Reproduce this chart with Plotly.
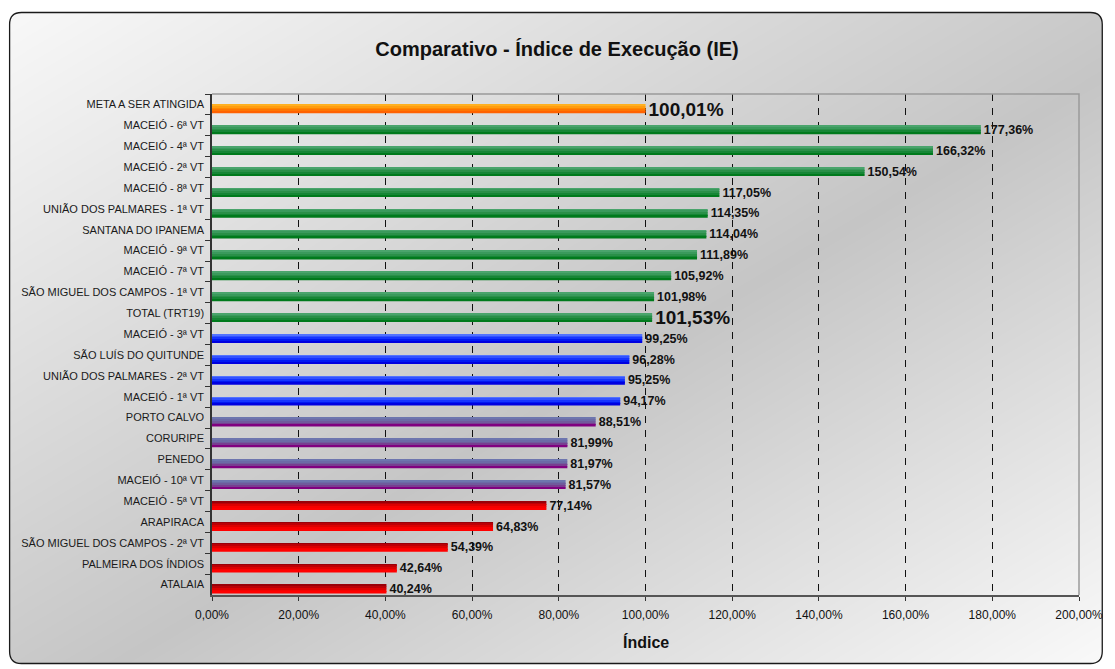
import base64, zlib, struct
import numpy as np
import plotly.graph_objects as go

# ---------------- data ----------------
categories = [
    "META A SER ATINGIDA", "MACEIÓ - 6ª VT", "MACEIÓ - 4ª VT", "MACEIÓ - 2ª VT",
    "MACEIÓ - 8ª VT", "UNIÃO DOS PALMARES - 1ª VT", "SANTANA DO IPANEMA",
    "MACEIÓ - 9ª VT", "MACEIÓ - 7ª VT", "SÃO MIGUEL DOS CAMPOS - 1ª VT",
    "TOTAL (TRT19)", "MACEIÓ - 3ª VT", "SÃO LUÍS DO QUITUNDE",
    "UNIÃO DOS PALMARES - 2ª VT", "MACEIÓ - 1ª VT", "PORTO CALVO", "CORURIPE",
    "PENEDO", "MACEIÓ - 10ª VT", "MACEIÓ - 5ª VT", "ARAPIRACA",
    "SÃO MIGUEL DOS CAMPOS - 2ª VT", "PALMEIRA DOS ÍNDIOS", "ATALAIA",
]
values = [
    100.01, 177.36, 166.32, 150.54, 117.05, 114.35, 114.04, 111.89, 105.92,
    101.98, 101.53, 99.25, 96.28, 95.25, 94.17, 88.51, 81.99, 81.97, 81.57,
    77.14, 64.83, 54.39, 42.64, 40.24,
]
groups = (["meta"] + ["green"] * 10 + ["blue"] * 4 + ["purple"] * 4 + ["red"] * 5)
highlight = ["META A SER ATINGIDA", "TOTAL (TRT19)"]
x_ticks = [0, 20, 40, 60, 80, 100, 120, 140, 160, 180, 200]
x_ticktext = [f"{v:.2f}".replace(".", ",") + "%" for v in x_ticks]

# ---------------- styles ----------------
palette = {
    "meta":   ["#ffb020", "#ff9c10", "#ff8800", "#ff7400", "#ff6200"],
    "green":  ["#4aa46c", "#3a9a5c", "#2a9048", "#168636", "#007a1c"],
    "blue":   ["#5272ff", "#3352ff", "#1634ff", "#0018f2", "#0000e0"],
    "purple": ["#6e76ae", "#6c6aa6", "#705a9c", "#783e90", "#800080"],
    "red":    ["#9a0008", "#bc0006", "#dc0000", "#f60000", "#ff0000"],
}
W, H = 1115, 669
OFF = 8                                   # default page body margin
L, R, T, B = 212, 1088, 94, 595          # plot area in page px
FONT = "Liberation Sans, Arial, sans-serif"


def fx(px):
    return (px - L) / (R - L)


def fy(py):
    return (B - py) / (B - T)


# ---------------- background gradient image ----------------
bx0, by0, bx1, by1 = 7, 12, 1112, 664
bw, bh = bx1 - bx0, by1 - by0
yy, xx = np.mgrid[0:bh, 0:bw].astype(float)
u = xx / (bw - 1)
v = yy / (bh - 1)
t = (u + v) / 2
gray = np.interp(t, [0.0, 0.55, 1.0], [248, 197, 249])
rad = 12.0
cx = np.clip(xx + 0.5, rad, bw - rad)
cy = np.clip(yy + 0.5, rad, bh - rad)
d = np.hypot(xx + 0.5 - cx, yy + 0.5 - cy)
alpha = np.clip(rad + 0.5 - d, 0, 1) * 255
raw = np.dstack([gray, alpha]).round().astype(np.int16).reshape(bh, bw * 2)
filt = raw.copy()
filt[:, 2:] = (raw[:, 2:] - raw[:, :-2]) % 256
rows = np.hstack([np.ones((bh, 1), dtype=np.int16), filt]).astype(np.uint8)


def chunk(tag, data):
    c = struct.pack(">I", len(data)) + tag + data
    return c + struct.pack(">I", zlib.crc32(tag + data) & 0xFFFFFFFF)


png = (b"\x89PNG\r\n\x1a\n"
       + chunk(b"IHDR", struct.pack(">IIBBBBB", bw, bh, 8, 4, 0, 0, 0))
       + chunk(b"IDAT", zlib.compress(rows.tobytes(), 9))
       + chunk(b"IEND", b""))
bg_src = "data:image/png;base64," + base64.b64encode(png).decode()

# ---------------- figure ----------------
fig = go.Figure()
n_strips = 5
bar_off, bar_w = 0.015, 0.41
sw = bar_w / n_strips
for k in range(n_strips):
    fig.add_trace(go.Bar(
        y=categories, x=values, orientation="h",
        offset=bar_off + k * sw, width=sw * 1.02,
        marker=dict(color=[palette[g][k] for g in groups], line=dict(width=0)),
        hoverinfo="skip", showlegend=False,
    ))

fig.add_trace(go.Bar(
    y=categories, x=values, orientation="h",
    offset=bar_off, width=bar_w,
    marker=dict(color="rgba(0,0,0,0)", line=dict(width=0)),
    texttemplate="<b>%{x:.2f}%</b>", textposition="outside",
    constraintext="none", cliponaxis=False,
    textfont=dict(family=FONT, color="#111111",
                  size=[19 if c in highlight else 12.5 for c in categories]),
    showlegend=False,
))

rr = 12
x0, y0, x1, y1 = bx0 + 0.5, by0 + 0.5, bx1 - 0.5, by1 - 0.5
border_path = (
    f"M {fx(x0 + rr)},{fy(y0)} L {fx(x1 - rr)},{fy(y0)} "
    f"Q {fx(x1)},{fy(y0)} {fx(x1)},{fy(y0 + rr)} "
    f"L {fx(x1)},{fy(y1 - rr)} Q {fx(x1)},{fy(y1)} {fx(x1 - rr)},{fy(y1)} "
    f"L {fx(x0 + rr)},{fy(y1)} Q {fx(x0)},{fy(y1)} {fx(x0)},{fy(y1 - rr)} "
    f"L {fx(x0)},{fy(y0 + rr)} Q {fx(x0)},{fy(y0)} {fx(x0 + rr)},{fy(y0)} Z"
)
frame_path = "M 0,1 L 1,1 L 1,0"

fig.update_layout(
    width=W - OFF, height=H - OFF,
    margin=dict(l=L - OFF, r=W - R, t=T - OFF, b=H - B),
    paper_bgcolor="white", plot_bgcolor="rgba(0,0,0,0)",
    separators=",.",
    barmode="overlay",
    font=dict(family=FONT, color="#111111"),
    title=dict(text="<b>Comparativo - Índice de Execução (IE)</b>",
               x=(557 - OFF) / (W - OFF), xref="container",
               y=1 - (49 - OFF) / (H - OFF), yref="container",
               xanchor="center", yanchor="middle",
               font=dict(family=FONT, size=20, color="#111111")),
    images=[dict(source=bg_src, xref="paper", yref="paper",
                 x=fx(bx0), y=fy(by0), sizex=bw / (R - L), sizey=bh / (B - T),
                 xanchor="left", yanchor="top", sizing="stretch",
                 layer="below")],
    shapes=[
        dict(type="path", path=border_path, xref="paper", yref="paper",
             line=dict(color="#1a1a1a", width=1.3), layer="above"),
        dict(type="path", path=frame_path, xref="paper", yref="paper",
             line=dict(color="#9a9a9a", width=1.5), layer="above"),
    ],
    annotations=[dict(text="<b>Índice</b>", xref="paper", yref="paper",
                      x=0.5, y=fy(642), xanchor="center", yanchor="middle",
                      showarrow=False,
                      font=dict(family=FONT, size=16, color="#111111"))],
    xaxis=dict(range=[0, 200], tickvals=x_ticks, ticktext=x_ticktext,
               showgrid=True, gridcolor="#111111",
               griddash="7px,7px", gridwidth=1, zeroline=False,
               showline=True, linecolor="#555555", linewidth=2,
               ticks="outside", ticklen=4, tickcolor="#333333",
               ticklabelstandoff=4,
               tickfont=dict(family=FONT, size=12, color="#111111")),
    yaxis=dict(type="category", categoryorder="array",
               categoryarray=categories, range=[len(categories) - 0.5, -0.5],
               showgrid=False, zeroline=False, showline=True,
               linecolor="#333333", linewidth=1.5, ticks="outside",
               tickson="boundaries", ticklen=5, tickcolor="#333333",
               ticklabelstandoff=4,
               tickfont=dict(family=FONT, size=11, color="#1a1a1a")),
)

fig.write_html("out.html")
